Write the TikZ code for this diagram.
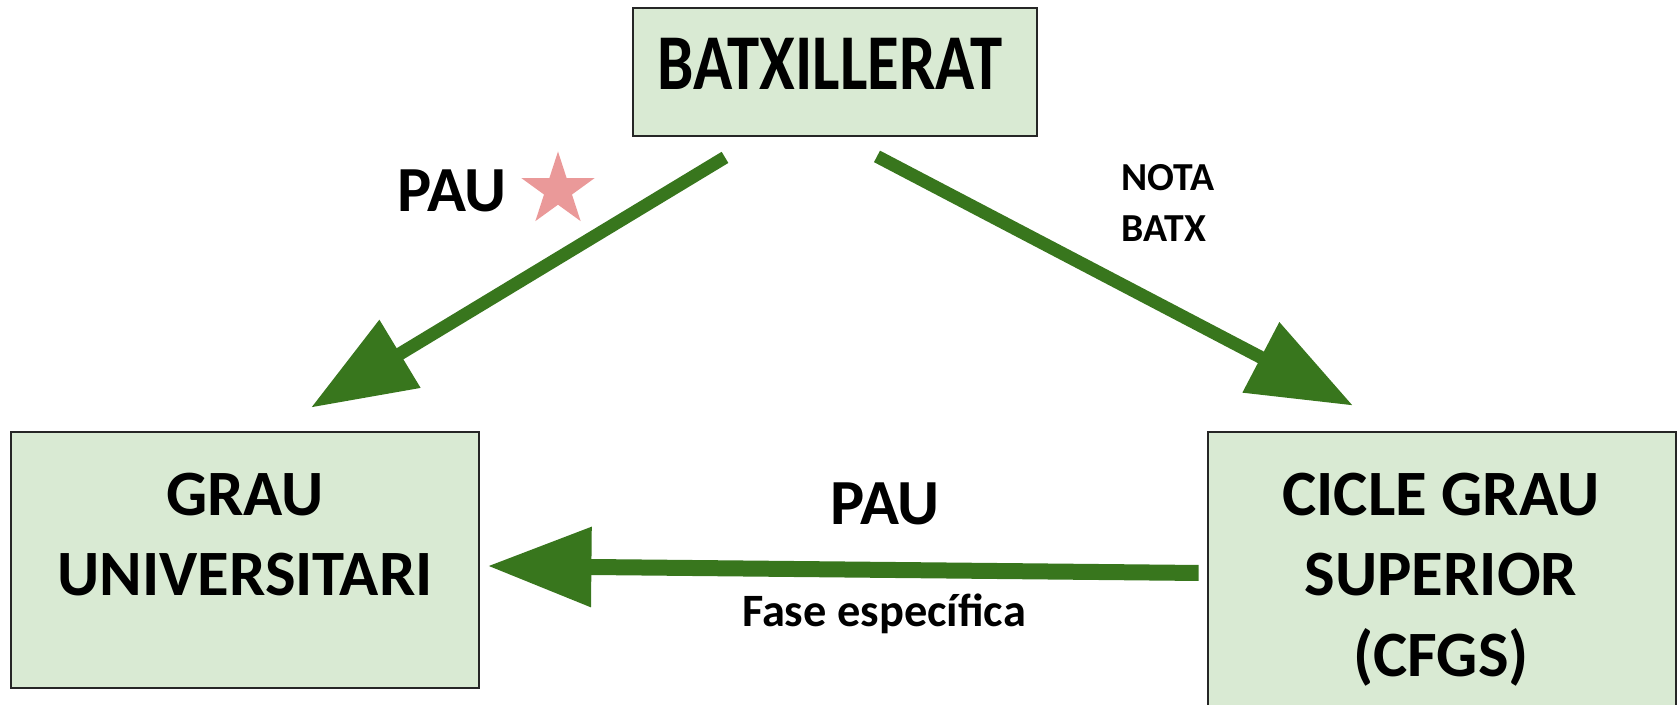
\documentclass[tikz,border=0pt]{standalone}
\usepackage{fontspec}
\setmainfont{Carlito}
\usepackage{graphicx}
\usepackage{xcolor}
\definecolor{boxgreen}{HTML}{D9EAD3}
\definecolor{arrowgreen}{HTML}{38761D}
\definecolor{starpink}{HTML}{EA9999}
\usetikzlibrary{arrows.meta,calc,positioning,shapes.geometric}
\tikzset{
    x=0.1mm, y=-0.1mm,
    box/.style = {draw=black!85, line width=0.8pt, fill=boxgreen, inner sep=0pt},
    txt/.style = {inner sep=0pt, font=\bfseries},
    flow/.style = {arrowgreen, line width=1.3mm, line cap=butt,
                   -{Triangle[length=10.4mm, width=7.6mm]}},
}

\begin{document}
\begin{tikzpicture}
      \useasboundingbox (0,0) rectangle (1677,705);

      % boxes
      \node[box, minimum width=40.4mm, minimum height=12.8mm] (bat) at (835,72) {};
      \node[box, minimum width=46.8mm, minimum height=25.6mm] (grau) at (245,560) {};
      \node[box, minimum width=46.8mm, minimum height=28mm] (cicle) at (1442,572) {};

      % box texts
      \node[txt, anchor=base, font=\bfseries\fontsize{22.5}{27}\selectfont] (battxt) at (830,90) {\scalebox{0.82}[1]{BATXILLERAT}};
      \node[txt, anchor=north, align=center, font=\bfseries\fontsize{18.4}{22.8}\selectfont] (grautxt) at (245,472) {GRAU\\UNIVERSITARI};
      \node[txt, anchor=north, align=center, font=\bfseries\fontsize{18.4}{23}\selectfont] (cicletxt) at (1441,472) {CICLE GRAU\\SUPERIOR\\(CFGS)};

      % connectors
      \draw[flow] ($(bat.south)+(-110,20)$) -- ($(grau.north)+(66,-23)$);
      \draw[flow] ($(bat.south)+(42,19)$) -- ($(cicle.north)+(-89,-25)$);
      \draw[flow, line width=1.6mm] ($(cicle.west)+(-8,1)$) -- ($(grau.east)+(7,6)$);

      % labels
      \node[txt, anchor=base, font=\bfseries\fontsize{18.3}{21}\selectfont] (pau1) at (452,212) {PAU};
      \node[star, star points=5, star point ratio=2.618, fill=starpink, inner sep=0pt, minimum size=7.7mm] (star1) at (558,190) {};
      \node[txt, anchor=north west, align=left, font=\bfseries\fontsize{11.3}{14.5}\selectfont] (nota) at (1121,164) {NOTA\\BATX};
      \node[txt, anchor=base, font=\bfseries\fontsize{18.3}{21}\selectfont] (pau2) at (885,525) {PAU};
      \node[txt, anchor=base, font=\bfseries\fontsize{13.2}{15}\selectfont] (fase) at (884,627) {Fase específica};
\end{tikzpicture}
\end{document}
